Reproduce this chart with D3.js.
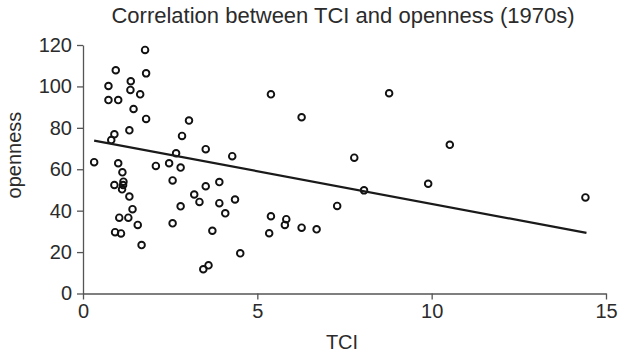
<!DOCTYPE html>
<html>
<head>
<meta charset="utf-8">
<script src="https://cdn.jsdelivr.net/npm/d3@7"></script>
<style>
  body { margin: 0; background: #fff; }
  svg text { font-family: "Liberation Sans", Arial, sans-serif; fill: #2b2b2b; }
</style>
</head>
<body>
<svg></svg>
<script>
// TCI (x) and openness (y)
var tci = [0.32, 0.73, 0.73, 0.94, 1.01, 1.78, 1.81, 1.37, 1.36, 1.64,
           1.45, 1.81, 1.33, 0.90, 0.81, 1.01, 1.13, 0.90, 1.16, 1.12,
           1.15, 1.33, 1.42, 1.04, 1.30, 1.57, 0.92, 1.09, 1.68, 2.09,
           2.47, 2.67, 2.80, 2.57, 2.80, 2.57, 2.84, 3.04, 3.52, 4.28,
           3.19, 3.34, 3.52, 3.91, 3.91, 4.36, 4.08, 3.71, 4.51, 3.45,
           3.60, 5.39, 6.27, 5.39, 5.83, 5.79, 5.34, 6.27, 6.70, 7.29,
           7.78, 8.06, 8.78, 10.52, 9.90, 14.41];
var openness = [63.4, 100.2, 93.4, 107.8, 93.4, 117.6, 106.3, 102.5, 98.3, 96.2,
                89.1, 84.3, 78.8, 76.9, 74.1, 62.9, 58.5, 52.4, 54.0, 50.3,
                52.4, 46.8, 40.7, 36.6, 36.6, 33.1, 29.6, 29.0, 23.4, 61.6,
                62.9, 67.7, 60.8, 54.6, 42.1, 33.9, 76.1, 83.5, 69.7, 66.3,
                47.8, 44.2, 51.8, 53.8, 43.6, 45.4, 38.7, 30.3, 19.4, 11.7,
                13.6, 96.2, 85.1, 37.3, 35.9, 33.1, 29.1, 31.8, 31.0, 42.3,
                65.6, 49.8, 96.7, 71.8, 53.0, 46.4];

// fitted line end points
var fitX = [0.32, 14.44];
var fitY = [73.8, 29.3];

var xTicks = [0, 5, 10, 15];
var yTicks = [0, 20, 40, 60, 80, 100, 120];

var svgWidth = 625, svgHeight = 358;
var margin = {top: 45, right: 19, bottom: 64.5, left: 83};
var w = svgWidth - margin.left - margin.right;
var h = svgHeight - margin.top - margin.bottom;

var svg = d3.select('svg')
.attr('width', svgWidth)
.attr('height', svgHeight);

var g = svg.append('g')
.attr('transform', 'translate(' + margin.left + ',' + margin.top + ')');

var xScale = d3.scaleLinear().domain([0, 15]).range([0, w]);
var yScale = d3.scaleLinear().domain([0, 120]).range([h, 0]);

var x_axis = d3.axisBottom(xScale).tickValues(xTicks).tickSize(6).tickSizeOuter(0).tickPadding(4);
var y_axis = d3.axisLeft(yScale).tickValues(yTicks).tickSize(6).tickSizeOuter(0).tickPadding(5);

var gx = g.append('g')
.attr('transform', 'translate(0,' + h + ')')
.call(x_axis);

var gy = g.append('g').call(y_axis);

[gx, gy].forEach(function(a) {
  a.selectAll('path, line').attr('stroke', '#555').attr('stroke-width', 1.3);
  a.selectAll('text').style('font-size', '20px').attr('fill', '#2b2b2b');
});

// scatter
g.selectAll('circle')
.data(tci)
.enter()
.append('circle')
.attr('cx', function(d) { return xScale(d); })
.attr('cy', function(d, i) { return yScale(openness[i]); })
.attr('r', 3.3)
.attr('fill', 'none')
.attr('stroke', '#111')
.attr('stroke-width', 1.9);

// regression line
g.append('line')
.attr('x1', xScale(fitX[0])).attr('y1', yScale(fitY[0]))
.attr('x2', xScale(fitX[1])).attr('y2', yScale(fitY[1]))
.attr('stroke', '#1a1a1a')
.attr('stroke-width', 2.2);

// titles
svg.append('text')
.attr('x', 343)
.attr('y', 23)
.attr('text-anchor', 'middle')
.style('font-size', '22px')
.text('Correlation between TCI and openness (1970s)');

svg.append('text')
.attr('x', 342)
.attr('y', 349)
.attr('text-anchor', 'middle')
.style('font-size', '20px')
.text('TCI');

svg.append('text')
.attr('transform', 'translate(21,155) rotate(-90)')
.attr('text-anchor', 'middle')
.style('font-size', '20px')
.text('openness');
</script>
</body>
</html>
